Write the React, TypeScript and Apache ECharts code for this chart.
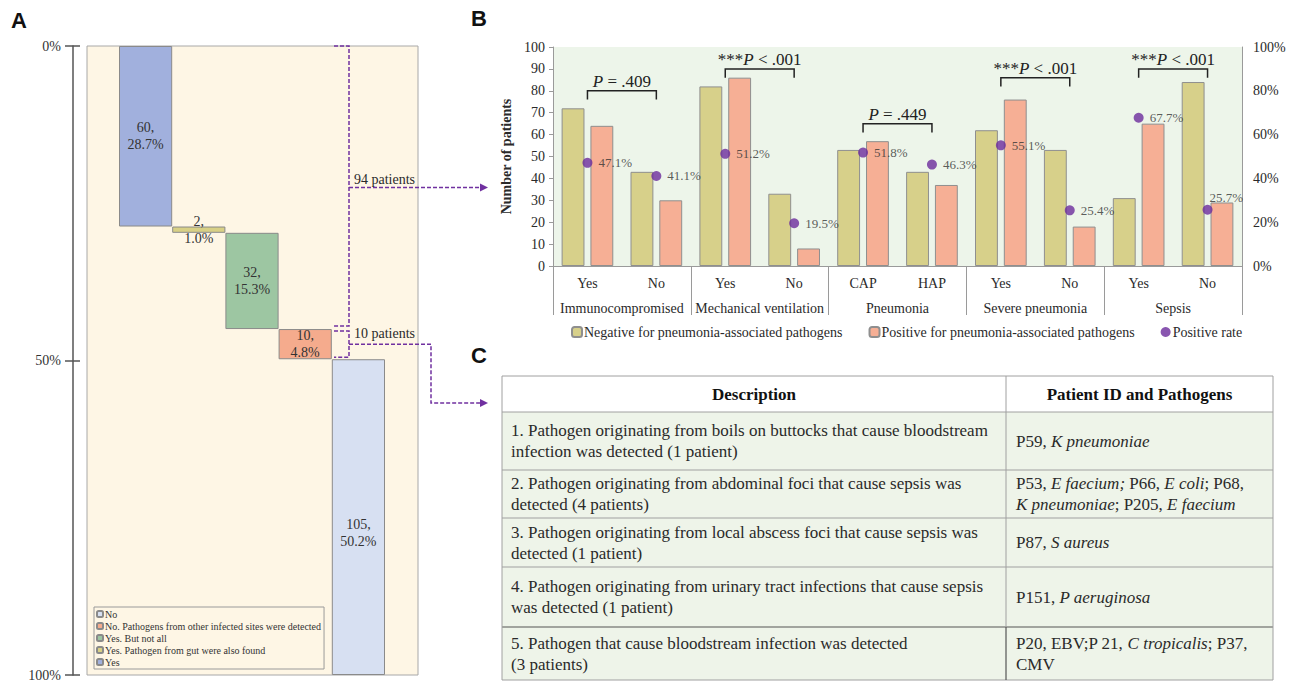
import React, { useEffect, useRef } from 'react';
import * as echarts from 'echarts';

const SERIF = "'Liberation Serif','Times New Roman',serif";
const SANS = "'Liberation Sans',Arial,sans-serif";
const TXT = '#2a2a2a';

// ---------- Panel A data ----------
const aCategories = [
  'Yes',
  'Yes. Pathogen from gut were also found',
  'Yes. But not all',
  'No. Pathogens from other infected sites were detected',
  'No',
];
const aCounts = [60, 2, 32, 10, 105];
const aPercents = [28.7, 1.0, 15.3, 4.8, 50.2];
const aColors = ['#A1B0DD', '#D8D085', '#9DC6A2', '#F5AB8D', '#D7E0F2'];
const aLegendOrder = [
  'No',
  'No. Pathogens from other infected sites were detected',
  'Yes. But not all',
  'Yes. Pathogen from gut were also found',
  'Yes',
];

// ---------- Panel B data ----------
const bCategories = ['Yes', 'No', 'Yes', 'No', 'CAP', 'HAP', 'Yes', 'No', 'Yes', 'No'];
const bGroups = ['Immunocompromised', 'Mechanical ventilation', 'Pneumonia', 'Severe pneumonia', 'Sepsis'];
const bNegative = [72, 43, 82, 33, 53, 43, 62, 53, 31, 84];
const bPositive = [64, 30, 86, 8, 57, 37, 76, 18, 65, 29];
const bRate = [47.1, 41.1, 51.2, 19.5, 51.8, 46.3, 55.1, 25.4, 67.7, 25.7];
const bracketStart = [0, 2, 4, 6, 8];
const bracketEnd = [1, 3, 5, 7, 9];
const bracketHeight = [80, 90, 65, 86, 90];
const bracketLabel = [
  '{i|P}{n| = .409}',
  '{n|***}{i|P}{n| < .001}',
  '{i|P}{n| = .449}',
  '{n|***}{i|P}{n| < .001}',
  '{n|***}{i|P}{n| < .001}',
];
const NEG_NAME = 'Negative for pneumonia-associated pathogens';
const POS_NAME = 'Positive for pneumonia-associated pathogens';
const RATE_NAME = 'Positive rate';

// ---------- Panel C data ----------
const tableHeaders = ['Description', 'Patient ID and Pathogens'];
const tableDescriptions = [
  '1. Pathogen originating from boils on buttocks that cause bloodstream\ninfection was detected (1 patient)',
  '2. Pathogen originating from abdominal foci that cause sepsis was\ndetected (4 patients)',
  '3. Pathogen originating from local abscess foci that cause sepsis was\ndetected (1 patient)',
  '4. Pathogen originating from urinary tract infections that cause sepsis\nwas detected (1 patient)',
  '5. Pathogen that cause bloodstream infection was detected\n(3 patients)',
];
const tablePathogens = [
  '{n|P59, }{i|K pneumoniae}',
  '{n|P53, }{i|E faecium;}{n| P66, }{i|E coli}{n|; P68,}\n{i|K pneumoniae}{n|; P205, }{i|E faecium}',
  '{n|P87, }{i|S aureus}',
  '{n|P151, }{i|P aeruginosa}',
  '{n|P20, EBV;P 21, }{i|C tropicalis}{n|; P37,}\n{n|CMV}',
];

const aBase = aPercents.map((_, i) => aPercents.slice(0, i).reduce((s, v) => s + v, 0));

const purple = '#7030A0';

function buildOption(): any {
  const aSeries = aCategories.map((name, k) => ({
    type: 'bar',
    name,
    xAxisIndex: 0,
    yAxisIndex: 0,
    stack: 'a',
    barCategoryGap: '0%',
    data: aPercents.map((v, i) => (i === k ? v : '-')),
    itemStyle: { color: aColors[k], borderColor: '#8a8a8a', borderWidth: 1 },
    label: {
      show: true,
      position: 'inside',
      offset: k === 4 ? [0, 16] : [0, 0],
      formatter: () => `${aCounts[k]},\n${aPercents[k].toFixed(1)}%`,
      fontFamily: SERIF,
      fontSize: 14,
      lineHeight: 17,
      color: '#333',
    },
  }));

  return {
    animation: false,
    textStyle: { fontFamily: SERIF },
    grid: [
      { left: 119, top: 46, width: 266, height: 634, containLabel: false },
      {
        left: 553, top: 47, width: 689, height: 219, show: true,
        backgroundColor: '#EDF5EA', borderWidth: 0,
      },
    ],
    legend: [
      {
        data: aLegendOrder,
        orient: 'vertical',
        left: 94,
        top: 607,
        itemWidth: 6,
        itemHeight: 6,
        itemGap: 0,
        padding: [1, 3, 1, 2],
        backgroundColor: '#FEF6E5',
        borderColor: '#9a9a9a',
        borderWidth: 1,
        selectedMode: false,
        textStyle: { fontFamily: SERIF, fontSize: 10, color: '#333', lineHeight: 12, padding: [0, 0, 0, -3] },
      },
      {
        data: [NEG_NAME, POS_NAME, { name: RATE_NAME, icon: 'circle' }],
        left: 566,
        top: 320,
        itemWidth: 10,
        itemHeight: 10,
        itemGap: 26,
        selectedMode: false,
        textStyle: { fontFamily: SERIF, fontSize: 14, color: TXT, padding: [0, 0, 0, -3] },
      },
    ],
    xAxis: [
      { gridIndex: 0, type: 'category', data: aCategories, show: false },
      {
        gridIndex: 1, type: 'category', data: bCategories,
        axisLine: { show: true, lineStyle: { color: '#9a9a9a', width: 1 } },
        axisTick: { show: false },
        axisLabel: { fontFamily: SERIF, fontSize: 14, color: TXT, margin: 10, interval: 0 },
      },
      {
        gridIndex: 1, type: 'category', data: bGroups, position: 'bottom',
        axisLine: { show: false },
        axisTick: { show: true, length: 49, lineStyle: { color: '#9a9a9a', width: 1 } },
        axisLabel: { fontFamily: SERIF, fontSize: 14, color: TXT, margin: 35, interval: 0 },
      },
    ],
    yAxis: [
      {
        gridIndex: 0, type: 'value', min: 0, max: 100, interval: 50, inverse: true,
        position: 'left', offset: 46,
        axisLine: { show: true, lineStyle: { color: '#555', width: 1.5 } },
        axisTick: { show: true, length: 8, lineStyle: { color: '#555', width: 1.5 } },
        axisLabel: { formatter: '{value}%', fontFamily: SERIF, fontSize: 14, color: '#333', margin: 12 },
        splitLine: { show: false },
      },
      {
        gridIndex: 0, type: 'value', min: 0, max: 100, interval: 50, inverse: true,
        position: 'left', offset: 46,
        axisLine: { show: false },
        axisTick: { show: true, inside: true, length: 7, lineStyle: { color: '#555', width: 1.5 } },
        axisLabel: { show: false },
        splitLine: { show: false },
      },
      {
        gridIndex: 1, type: 'value', min: 0, max: 100, interval: 10, position: 'left',
        name: 'Number of patients', nameLocation: 'middle', nameGap: 31, nameRotate: 90,
        nameTextStyle: { fontFamily: SERIF, fontSize: 14, fontWeight: 'bold', color: TXT },
        axisLine: { show: true, lineStyle: { color: '#9a9a9a', width: 1 } },
        axisTick: { show: true, length: 4, lineStyle: { color: '#9a9a9a' } },
        axisLabel: { fontFamily: SERIF, fontSize: 14, color: TXT, margin: 8 },
        splitLine: { show: false },
      },
      {
        gridIndex: 1, type: 'value', min: 0, max: 100, interval: 20, position: 'right',
        axisLine: { show: true, lineStyle: { color: '#9a9a9a', width: 1 } },
        axisTick: { show: false },
        axisLabel: { formatter: '{value}%', fontFamily: SERIF, fontSize: 14, color: TXT, margin: 11 },
        splitLine: { show: false },
      },
    ],
    series: [
      {
        type: 'bar', xAxisIndex: 0, yAxisIndex: 0, stack: 'a', barCategoryGap: '0%',
        data: aBase, itemStyle: { color: 'transparent' }, silent: true, label: { show: false },
      },
      ...aSeries,
      {
        type: 'bar', name: NEG_NAME, xAxisIndex: 1, yAxisIndex: 2, data: bNegative,
        barGap: '26%', barCategoryGap: '25%',
        itemStyle: { color: '#D7D08A', borderColor: '#8f8f8f', borderWidth: 1 },
      },
      {
        type: 'bar', name: POS_NAME, xAxisIndex: 1, yAxisIndex: 2, data: bPositive,
        barGap: '26%', barCategoryGap: '25%',
        itemStyle: { color: '#F6AF95', borderColor: '#8f8f8f', borderWidth: 1 },
      },
      {
        type: 'scatter', name: RATE_NAME, xAxisIndex: 1, yAxisIndex: 3,
        symbolSize: 10, z: 5,
        itemStyle: { color: '#6B2C9C' },
        data: bRate.map((v, i) =>
          i === bRate.length - 1 ? { value: v, label: { offset: [-9, -12] } } : v,
        ),
        label: {
          show: true, position: 'right', distance: 6,
          formatter: (p: any) => `${Number(p.value).toFixed(1)}%`,
          fontFamily: SERIF, fontSize: 13, color: '#333',
        },
      },
      {
        type: 'custom', xAxisIndex: 1, yAxisIndex: 2, z: 6, silent: true,
        encode: { x: 0, y: 2 },
        data: bracketStart.map((s, i) => [s, bracketEnd[i], bracketHeight[i]]),
        renderItem: (params: any, api: any) => {
          const h = api.value(2);
          const s = api.coord([api.value(0), h]);
          const e = api.coord([api.value(1), h]);
          const d = api.coord([api.value(0), h - 4]);
          return {
            type: 'group',
            children: [
              {
                type: 'polyline',
                shape: { points: [[s[0], d[1]], [s[0], s[1]], [e[0], e[1]], [e[0], d[1]]] },
                style: { stroke: '#222', lineWidth: 1.5, fill: null },
              },
              {
                type: 'text',
                x: (s[0] + e[0]) / 2,
                y: s[1] - 1,
                style: {
                  text: bracketLabel[params.dataIndex],
                  align: 'center',
                  verticalAlign: 'bottom',
                  rich: {
                    n: { fontFamily: SERIF, fontSize: 17, fill: '#222' },
                    i: { fontFamily: SERIF, fontSize: 17, fill: '#222', fontStyle: 'italic' },
                  },
                },
              },
            ],
          };
        },
      },
    ],
  };
}

function buildGraphics(chart: any): any[] {
  const py = (v: number) => chart.convertToPixel({ yAxisIndex: 0 }, v) as number;
  const y0 = py(0);
  const y100 = py(100);
  const g1Top = py(aBase[0]);
  const g1Bot = py(aBase[3]);
  const g2Top = py(aBase[3]);
  const g2Bot = py(aBase[4]);
  const dash = { stroke: purple, lineWidth: 1.5, lineDash: [4, 2], fill: null };
  const vx = 349;
  const tx = 334;
  const arrow1y = (g1Top + g1Bot) / 2;
  const arrow2y = (g2Top + g2Bot) / 2;
  const arrowHead = (x: number, y: number) => ({
    type: 'polygon', z: 20,
    shape: { points: [[x - 8, y - 4], [x, y], [x - 8, y + 4]] },
    style: { fill: purple },
  });

  const els: any[] = [];
  // Panel A background
  els.push({
    type: 'rect', z: 0,
    shape: { x: 87, y: y0, width: 331, height: y100 - y0 },
    style: { fill: '#FEF6E5', stroke: '#a8a8a8', lineWidth: 1 },
  });
  // bracket 1
  els.push({ type: 'polyline', z: 20, shape: { points: [[tx, g1Top], [vx, g1Top], [vx, g1Bot - 3], [tx, g1Bot - 3]] }, style: dash });
  els.push({ type: 'polyline', z: 20, shape: { points: [[vx, arrow1y], [486, arrow1y]] }, style: dash });
  els.push(arrowHead(488, arrow1y));
  els.push({
    type: 'text', z: 20, x: 354, y: arrow1y - 8,
    style: { text: '94 patients', fontFamily: SERIF, fontSize: 14, fill: TXT, verticalAlign: 'middle' },
  });
  // bracket 2
  els.push({ type: 'polyline', z: 20, shape: { points: [[tx, g2Top + 2], [vx, g2Top + 2], [vx, g2Bot - 2], [tx, g2Bot - 2]] }, style: dash });
  els.push({
    type: 'polyline', z: 20,
    shape: { points: [[vx, arrow2y], [431, arrow2y], [431, 403], [486, 403]] },
    style: dash,
  });
  els.push(arrowHead(488, 403));
  els.push({
    type: 'text', z: 20, x: 354, y: arrow2y - 11,
    style: { text: '10 patients', fontFamily: SERIF, fontSize: 14, fill: TXT, verticalAlign: 'middle' },
  });

  // Panel letters
  const letter = (t: string, x: number, y: number) => ({
    type: 'text', z: 20, x, y,
    style: { text: t, fontFamily: SANS, fontSize: 22, fontWeight: 'bold', fill: '#111', verticalAlign: 'middle' },
  });
  els.push(letter('A', 11, 20));
  els.push(letter('B', 471, 18));
  els.push(letter('C', 471, 355));

  // Panel C table
  const left = 502;
  const right = 1273;
  const colX = 1006;
  const rowLines = [376, 412, 470, 518, 567, 627, 680];
  for (let r = 0; r < rowLines.length - 1; r++) {
    els.push({
      type: 'rect', z: 1,
      shape: { x: left, y: rowLines[r], width: right - left, height: rowLines[r + 1] - rowLines[r] },
      style: { fill: r === 0 ? '#ffffff' : '#EEF4E9' },
    });
  }
  rowLines.forEach((y, r) => {
    els.push({
      type: 'line', z: 3,
      shape: { x1: left, y1: y, x2: right, y2: y },
      style: { stroke: r === 5 ? '#555' : '#a0a0a0', lineWidth: r === 5 ? 1.2 : 1 },
    });
  });
  els.push({ type: 'line', z: 3, shape: { x1: left, y1: rowLines[0], x2: left, y2: rowLines[6] }, style: { stroke: '#a0a0a0', lineWidth: 1 } });
  els.push({ type: 'line', z: 3, shape: { x1: right, y1: rowLines[0], x2: right, y2: rowLines[6] }, style: { stroke: '#a0a0a0', lineWidth: 1 } });
  els.push({ type: 'line', z: 3, shape: { x1: colX, y1: rowLines[0], x2: colX, y2: rowLines[5] }, style: { stroke: '#a0a0a0', lineWidth: 1 } });
  els.push({ type: 'line', z: 3, shape: { x1: colX, y1: rowLines[5], x2: colX, y2: rowLines[6] }, style: { stroke: '#555', lineWidth: 1.2 } });

  const hy = (rowLines[0] + rowLines[1]) / 2;
  els.push({
    type: 'text', z: 4, x: (left + colX) / 2, y: hy,
    style: { text: tableHeaders[0], fontFamily: SERIF, fontSize: 17, fontWeight: 'bold', fill: '#111', align: 'center', verticalAlign: 'middle' },
  });
  els.push({
    type: 'text', z: 4, x: (colX + right) / 2, y: hy,
    style: { text: tableHeaders[1], fontFamily: SERIF, fontSize: 17, fontWeight: 'bold', fill: '#111', align: 'center', verticalAlign: 'middle' },
  });
  tableDescriptions.forEach((d, i) => {
    const cy = (rowLines[i + 1] + rowLines[i + 2]) / 2;
    els.push({
      type: 'text', z: 4, x: 511, y: cy,
      style: { text: d, fontFamily: SERIF, fontSize: 17, lineHeight: 21, fill: TXT, align: 'left', verticalAlign: 'middle' },
    });
    els.push({
      type: 'text', z: 4, x: 1016, y: cy,
      style: {
        text: tablePathogens[i], align: 'left', verticalAlign: 'middle',
        rich: {
          n: { fontFamily: SERIF, fontSize: 17, lineHeight: 21, fill: TXT },
          i: { fontFamily: SERIF, fontSize: 17, lineHeight: 21, fill: TXT, fontStyle: 'italic' },
        },
      },
    });
  });
  return els;
}

export default function App() {
  const ref = useRef<HTMLDivElement>(null);
  useEffect(() => {
    if (!ref.current) return;
    const chart = echarts.init(ref.current, null, { renderer: 'svg' });
    chart.setOption(buildOption());
    chart.setOption({ graphic: { elements: buildGraphics(chart) } });
    return () => chart.dispose();
  }, []);
  return (
    <div
      ref={ref}
      style={{ position: 'absolute', left: 0, top: 0, width: 1298, height: 682, background: '#fff' }}
    />
  );
}
